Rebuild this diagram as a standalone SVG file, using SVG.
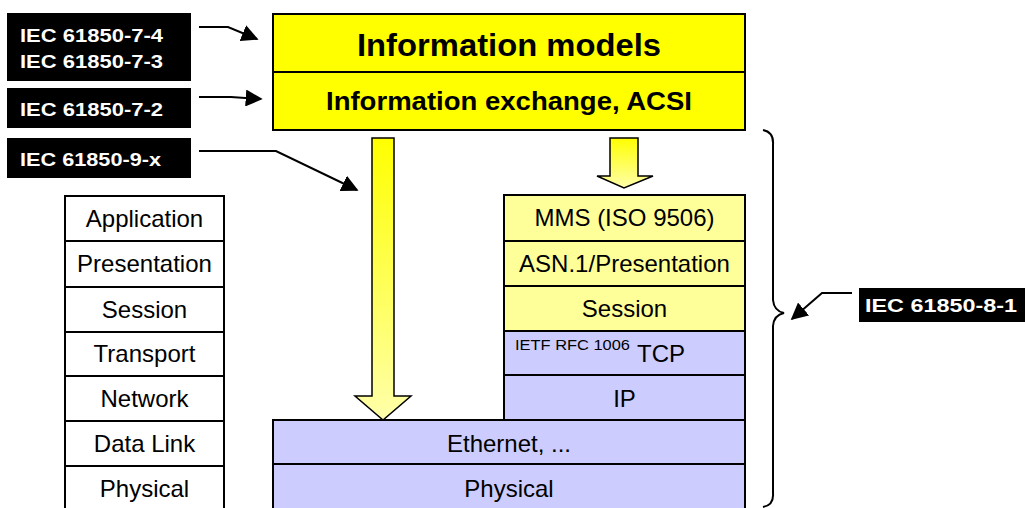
<svg xmlns="http://www.w3.org/2000/svg" width="1025" height="508" viewBox="0 0 1025 508">
<style>
.lbl{fill:#000}
.lt{font-family:"Liberation Sans",Arial,sans-serif;font-weight:bold;font-size:19px;fill:#fff}
.box{stroke:#000;stroke-width:2}
.t{font-family:"Liberation Sans",Arial,sans-serif;font-size:24px;fill:#000;text-anchor:middle}
.tb{font-family:"Liberation Sans",Arial,sans-serif;font-weight:bold;fill:#000;text-anchor:middle}
.osi{fill:#fff}
.py{fill:#FFFF99}
.bl{fill:#CCCCFF}
.conn{fill:none;stroke:#000;stroke-width:2}
</style>
<defs>
<marker id="ah2" viewBox="0 0 10 10" refX="9" refY="5" markerWidth="17" markerHeight="17" markerUnits="userSpaceOnUse" orient="auto"><path d="M0,0 L10,5 L0,10 z" fill="#000"/></marker>
<linearGradient id="gy" x1="0" y1="0" x2="0" y2="1"><stop offset="0" stop-color="#FFFF00"/><stop offset="1" stop-color="#FFFFAA"/></linearGradient>
</defs>
<rect width="1025" height="508" fill="#fff"/>

<g id="label-7-4-7-3"><rect class="lbl" x="7" y="13" width="184" height="68"/><text class="lt" x="20" y="42" textLength="143" lengthAdjust="spacingAndGlyphs">IEC 61850-7-4</text><text class="lt" x="20" y="68" textLength="143" lengthAdjust="spacingAndGlyphs">IEC 61850-7-3</text></g>
<g id="label-7-2"><rect class="lbl" x="7" y="88" width="184" height="40"/><text class="lt" x="20" y="116" textLength="143" lengthAdjust="spacingAndGlyphs">IEC 61850-7-2</text></g>
<g id="label-9-x"><rect class="lbl" x="7" y="138" width="184" height="40"/><text class="lt" x="20" y="166" textLength="141" lengthAdjust="spacingAndGlyphs">IEC 61850-9-x</text></g>
<g id="label-8-1"><rect class="lbl" x="859" y="288" width="166" height="34"/><text class="lt" x="865" y="312" textLength="152" lengthAdjust="spacingAndGlyphs">IEC 61850-8-1</text></g>

<g id="info-models"><rect class="box" x="273" y="14" width="472" height="58" fill="#FFFF00"/><text class="tb" x="509" y="56" font-size="31" textLength="304" lengthAdjust="spacingAndGlyphs">Information models</text></g>
<g id="info-exchange"><rect class="box" x="273" y="72" width="472" height="58" fill="#FFFF00"/><text class="tb" x="509" y="110" font-size="25" textLength="366" lengthAdjust="spacingAndGlyphs">Information exchange, ACSI</text></g>

<g id="big-arrows">
<path d="M372,138 L394,138 L394,396 L411,396 L383,420 L355,396 L372,396 Z" fill="url(#gy)" stroke="#000" stroke-width="1.5"/>
<path d="M610,138 L638,138 L638,176 L653,176 L624,188 L597,176 L610,176 Z" fill="url(#gy)" stroke="#000" stroke-width="1.5"/>
</g>

<g id="osi">
<rect class="box osi" x="65" y="196" width="159" height="45"/><text class="t" x="144.5" y="227">Application</text>
<rect class="box osi" x="65" y="241" width="159" height="46"/><text class="t" x="144.5" y="272">Presentation</text>
<rect class="box osi" x="65" y="287" width="159" height="45"/><text class="t" x="144.5" y="318">Session</text>
<rect class="box osi" x="65" y="332" width="159" height="44"/><text class="t" x="144.5" y="362">Transport</text>
<rect class="box osi" x="65" y="376" width="159" height="45"/><text class="t" x="144.5" y="407">Network</text>
<rect class="box osi" x="65" y="421" width="159" height="45"/><text class="t" x="144.5" y="452">Data Link</text>
<rect class="box osi" x="65" y="466" width="159" height="50"/><text class="t" x="144.5" y="497">Physical</text>
</g>

<g id="mms"><rect class="box py" x="504" y="195" width="241" height="46"/><text class="t" x="624.5" y="226">MMS (ISO 9506)</text></g>
<g id="asn1"><rect class="box py" x="504" y="241" width="241" height="45"/><text class="t" x="624.5" y="272">ASN.1/Presentation</text></g>
<g id="session"><rect class="box py" x="504" y="286" width="241" height="45"/><text class="t" x="624.5" y="317">Session</text></g>
<g id="tcp"><rect class="box bl" x="504" y="331" width="241" height="44"/><text font-family="Liberation Sans,Arial,sans-serif" fill="#000" x="515" y="350" font-size="14" textLength="115" lengthAdjust="spacingAndGlyphs">IETF RFC 1006</text><text font-family="Liberation Sans,Arial,sans-serif" fill="#000" x="637" y="362" font-size="24">TCP</text></g>
<g id="ip"><rect class="box bl" x="504" y="375" width="241" height="45"/><text class="t" x="624.5" y="407">IP</text></g>
<g id="ethernet"><rect class="box bl" x="273" y="420" width="472" height="44"/><text class="t" x="509" y="452">Ethernet, ...</text></g>
<g id="physical"><rect class="box bl" x="273" y="464" width="472" height="50"/><text class="t" x="509" y="497">Physical</text></g>

<g id="connectors">
<path class="conn" d="M199,27 L228,27 L257,39" marker-end="url(#ah2)"/>
<path class="conn" d="M199,97 L231,97 L261,99" marker-end="url(#ah2)"/>
<path class="conn" d="M199,151 L276,151 L357,190" marker-end="url(#ah2)"/>
<path class="conn" d="M852,293 L822,293 L792,319" marker-end="url(#ah2)"/>
<path class="conn" d="M763,130 Q774,132 773,145 L773,300 Q774,311 784,313 Q774,315 773,326 L773,493 Q774,505 763,507"/>
</g>
</svg>
